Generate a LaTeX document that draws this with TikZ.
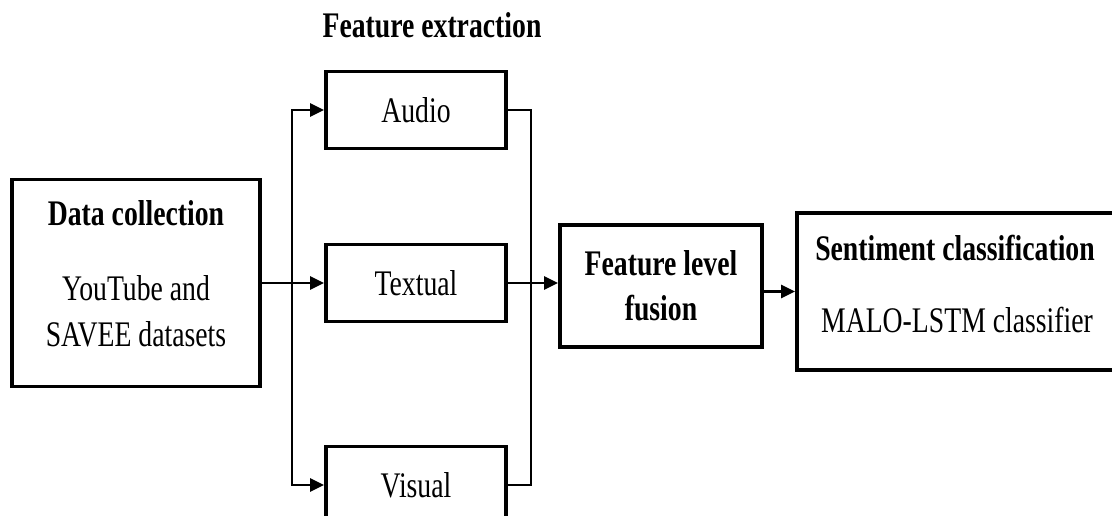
\documentclass[tikz,border=0pt]{standalone}
\usepackage{fontspec}
\setmainfont{Liberation Serif}[FakeStretch=0.77]
\usetikzlibrary{arrows.meta}

\begin{document}
\fontsize{18}{22.5}\selectfont
\begin{tikzpicture}
  [x=0.5pt,y=-0.5pt,
   stage/.style={draw,line width=1.9pt,inner sep=0pt},
   title/.style={anchor=base,font=\bfseries},
   wire/.style={line width=1.4pt},
   link/.style={line width=1.4pt,arrows={-Triangle[length=7pt,width=6.5pt]}}]
  \useasboundingbox (0,0) rectangle (1112,515);
  \clip (0,0) rectangle (1112,515);

  \node[stage,minimum width=124pt,minimum height=103.5pt] (data) at (136,283) {};
  \node[title] (dataT) at (136,225) {Data collection};
  \node[anchor=base] (dataS1) at (136,300) {YouTube and};
  \node[anchor=base] (dataS2) at (136,346) {SAVEE datasets};

  \node[title] (extract) at (432,37) {Feature extraction};
  \node[stage,minimum width=90pt,minimum height=38.5pt] (audio) at (416,110) {Audio};
  \node[stage,minimum width=90pt,minimum height=38.5pt] (textual) at (416,283) {Textual};
  \node[stage,minimum width=90pt,minimum height=38.5pt] (visual) at (416,485) {Visual};

  \node[stage,minimum width=101pt,minimum height=61pt,align=center,font=\bfseries] (fusion) at (661,286) {Feature level\\fusion};

  \node[stage,minimum width=161pt,minimum height=78.5pt] (sent) at (958,291.5) {};
  \node[title] (sentT) at (955,260) {Sentiment classification};
  \node[anchor=base] (sentS) at (957,332) {MALO-LSTM classifier};

  \coordinate (split) at (292,283);
  \coordinate (merge) at (531,283);

  \draw[wire] (data.east) -- (split);
  \foreach \to in {audio,textual,visual}
    \draw[link] (split) |- (\to.west);
  \draw[wire] (audio.east) -| (merge);
  \draw[wire] (visual.east) -| (merge);
  \draw[link] (textual.east) -- (textual.east -| fusion.west);
  \draw[link] (fusion.east |- sent.west) -- (sent.west);
\end{tikzpicture}
\end{document}
